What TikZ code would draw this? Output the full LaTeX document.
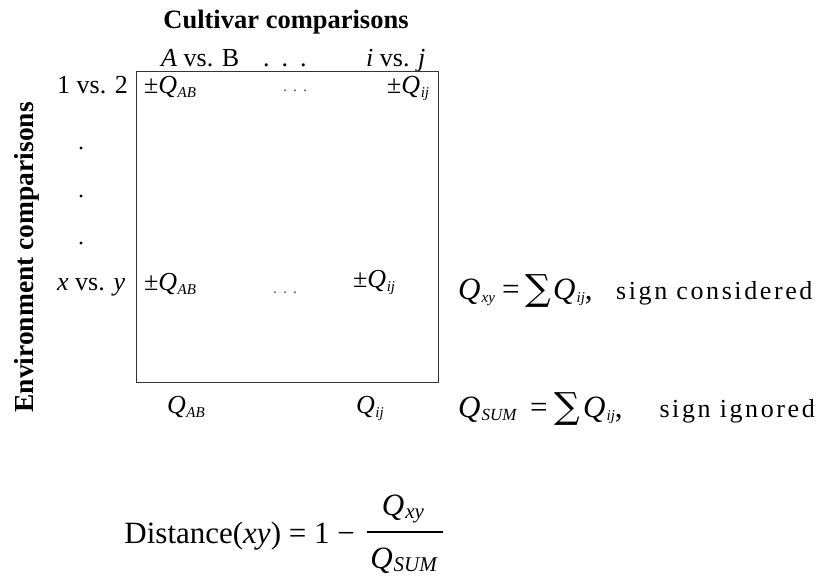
\documentclass[tikz,border=0pt]{standalone}
\usepackage{fontspec}
\setmainfont{Liberation Serif}
\newfontfamily\sumfont{DejaVu Serif}
\newcommand\Qsb[1]{\textit{Q}\kern0.5pt\raisebox{-4pt}{\fontsize{15}{15}\selectfont\textit{#1}}}
\newcommand\Qbig[2]{\textit{Q}\kern1pt\raisebox{-3.5pt}{\fontsize{#2}{#2}\selectfont\textit{#1}}}
\newcommand\bigsum{{\sumfont\fontsize{36}{36}\selectfont\raisebox{-1pt}{∑}}}
\tikzset{
  lbl/.style={font=\fontsize{26}{30}\selectfont, inner sep=0pt, anchor=base west},
  big/.style={font=\fontsize{31}{36}\selectfont, inner sep=0pt},
  hdr/.style={font=\fontsize{26.5}{30}\selectfont\bfseries, inner sep=0pt},
  smalldots/.style={font=\fontsize{16}{16}\selectfont, inner sep=0pt, anchor=base west, text=black!65},
  tracked/.style={font=\fontsize{26}{30}\selectfont\addfontfeatures{LetterSpace=10}, inner sep=0pt},
  gridbox/.style={draw=black!80, line width=0.9pt},
}
\begin{document}
\begin{tikzpicture}[x=1pt,y=-1pt]
\useasboundingbox (0,0) rectangle (819,580);
\fill[white] (0,0) rectangle (819,580);
% headings
\node[hdr, anchor=base] (cult) at (286,29) {Cultivar comparisons};
\node[hdr, font=\fontsize{27.5}{30}\selectfont\bfseries, rotate=90, anchor=base east] (env) at (33,102) {Environment comparisons};
% column labels
\node[lbl] (cAB) at (161,67) {\textit{A} vs. B};
\node[lbl] (cdots) at (263,67) {.\hspace{12pt}.\hspace{12pt}.};
\node[lbl] (cij) at (366,67) {\textit{i} vs. \textit{j}};
% box
\draw[gridbox] (136,71) rectangle (438,382);
% row labels
\node[lbl] (r12) at (57,94) {1 vs. 2};
\node[lbl] (rxy) at (57,290) {\textit{x} vs. \textit{y}};
\fill (81,148) circle (1.6) (81,196) circle (1.6) (81,243) circle (1.6);
% cells
\node[lbl] (q1ab) at (144,94) {±\Qsb{AB}};
\node[smalldots] (d1) at (283,92) {.\hspace{6pt}.\hspace{6pt}.};
\node[lbl] (q1ij) at (387,94) {±\Qsb{ij}};
\node[lbl] (q2ab) at (144,290) {±\Qsb{AB}};
\node[smalldots] (d2) at (273,293) {.\hspace{6pt}.\hspace{6pt}.};
\node[lbl] (q2ij) at (353,287) {±\Qsb{ij}};
\node[lbl] (qab) at (167,413) {\Qsb{AB}};
\node[lbl] (qij) at (356,413) {\Qsb{ij}};
% right formula 1
\node[big, anchor=base west] (fxyq) at (458,299) {\Qbig{xy}{15}};
\node[big, anchor=base west] (fxyeq) at (502,299) {=};
\node[big, anchor=base west] (fxysum) at (525,299) {\bigsum};
\node[big, anchor=base west] (fxyqij) at (553,299) {\Qbig{ij}{15},};
\node[tracked, anchor=base west] (fxytxt) at (616,299) {sign considered};
% right formula 2
\node[big, anchor=base west] (fsq) at (458,417) {\Qbig{SUM}{17}};
\node[big, anchor=base west] (fseq) at (530,417) {=};
\node[big, anchor=base west] (fssum) at (554,417) {\bigsum};
\node[big, anchor=base west] (fsqij) at (583,417) {\Qbig{ij}{15},};
\node[tracked, anchor=base east] (fstxt) at (815,417) {sign ignored};
% distance
\node[big, anchor=base east] (dist) at (355,543) {Distance(\textit{xy}) = 1 −};
\node[big, anchor=base] (num) at (403,515) {\Qbig{xy}{21}};
\node[big, anchor=base] (den) at (404,568) {\Qbig{SUM}{21}};
\draw[line width=1.1pt] (367,532) -- (443,532);
\end{tikzpicture}
\end{document}
